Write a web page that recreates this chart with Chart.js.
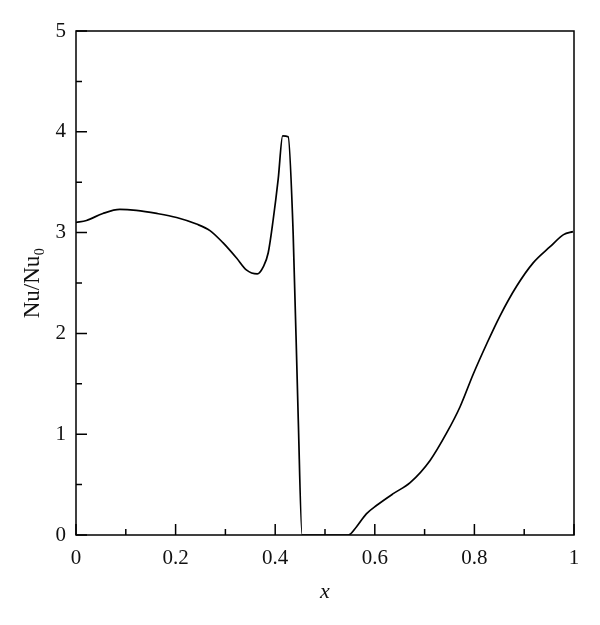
<!DOCTYPE html>
<html>
<head>
<meta charset="utf-8">
<script src="https://cdn.jsdelivr.net/npm/chart.js@4/dist/chart.umd.min.js"></script>
<style>
  html, body { margin: 0; padding: 0; background: #fff; }
  #wrap { width: 600px; height: 625px; }
</style>
</head>
<body>
<div id="wrap"><canvas id="nuChart"></canvas></div>
<script>
// Curve
const xValues = [0, 0.021, 0.054, 0.088, 0.121, 0.162, 0.202, 0.242, 0.269, 0.295, 0.322, 0.342, 0.364, 0.376, 0.386, 0.396, 0.406, 0.415, 0.426, 0.436, 0.446, 0.454,
  0.5, 0.547, 0.563, 0.583, 0.604, 0.637, 0.671, 0.711, 0.744, 0.771, 0.798, 0.825, 0.851, 0.885, 0.918, 0.952, 0.979, 0.998];
const nuValues = [3.10, 3.12, 3.19, 3.23, 3.22, 3.19, 3.15, 3.085, 3.02, 2.90, 2.75, 2.63, 2.59, 2.66, 2.80, 3.13, 3.53, 3.96, 3.95, 3.0, 1.2, 0,
  0, 0, 0.08, 0.21, 0.295, 0.41, 0.52, 0.74, 1.01, 1.27, 1.60, 1.90, 2.17, 2.47, 2.70, 2.86, 2.98, 3.01];

// Tick marks
const xMajorTicks = [0, 0.2, 0.4, 0.6, 0.8, 1];
const xMinorTicks = [0.1, 0.3, 0.5, 0.7, 0.9];
const yMajorTicks = [0, 1, 2, 3, 4, 5];
const yMinorTicks = [0.5, 1.5, 2.5, 3.5, 4.5];

const points = xValues.map((x, i) => ({ x: x, y: nuValues[i] }));
const serif = "'Liberation Serif', 'DejaVu Serif', serif";

// Frame and inward ticks
const framePlugin = {
  id: "frame",
  afterDraw(chart) {
    const ctx = chart.ctx;
    const area = chart.chartArea;
    const xs = chart.scales.x;
    const ys = chart.scales.y;
    ctx.save();
    ctx.strokeStyle = "#000";
    ctx.lineWidth = 1.5;
    ctx.strokeRect(area.left, area.top, area.right - area.left, area.bottom - area.top);
    ctx.beginPath();
    xMajorTicks.forEach(v => { const p = xs.getPixelForValue(v); ctx.moveTo(p, area.bottom); ctx.lineTo(p, area.bottom - 11); });
    xMinorTicks.forEach(v => { const p = xs.getPixelForValue(v); ctx.moveTo(p, area.bottom); ctx.lineTo(p, area.bottom - 6); });
    yMajorTicks.forEach(v => { const p = ys.getPixelForValue(v); ctx.moveTo(area.left, p); ctx.lineTo(area.left + 11, p); });
    yMinorTicks.forEach(v => { const p = ys.getPixelForValue(v); ctx.moveTo(area.left, p); ctx.lineTo(area.left + 6, p); });
    ctx.stroke();
    ctx.restore();
  }
};

new Chart(document.getElementById("nuChart"), {
  type: "line",
  data: {
    datasets: [{
      data: points,
      borderColor: "#000",
      borderWidth: 1.7,
      pointRadius: 0,
      fill: false,
      cubicInterpolationMode: "monotone"
    }]
  },
  options: {
    responsive: true,
    maintainAspectRatio: false,
    animation: false,
    layout: { padding: { top: 31, right: 26, left: 0, bottom: 0 } },
    plugins: { legend: { display: false }, tooltip: { enabled: false } },
    scales: {
      x: {
        type: "linear",
        min: 0,
        max: 1,
        afterFit(scale) { scale.height = 90; },
        grid: { display: false, drawTicks: false },
        border: { display: false },
        ticks: { stepSize: 0.2, padding: 11, color: "#111", font: { family: serif, size: 21 },
          callback: v => String(Math.round(v * 10) / 10) },
        title: { display: true, text: "x", color: "#111", padding: { top: 0, bottom: 20 },
          font: { family: serif, size: 22, style: "italic" } }
      },
      y: {
        min: 0,
        max: 5,
        afterFit(scale) { scale.width = 76; },
        grid: { display: false, drawTicks: false },
        border: { display: false },
        ticks: { stepSize: 1, padding: 10, color: "#111", font: { family: serif, size: 21 } },
        title: { display: true, text: "Nu/Nu\u2080", color: "#111", padding: { top: 19, bottom: 0 },
          font: { family: serif, size: 23 } }
      }
    }
  },
  plugins: [framePlugin]
});
</script>
</body>
</html>
